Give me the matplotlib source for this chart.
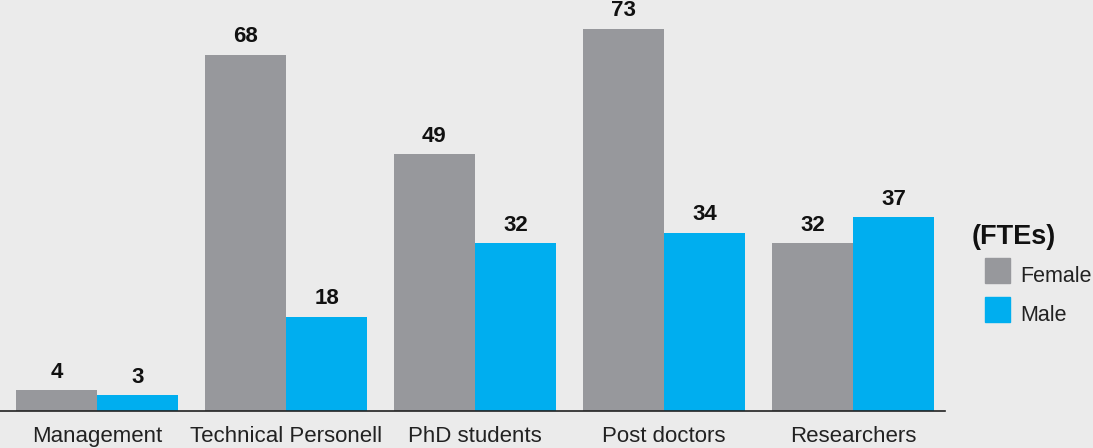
import numpy as np
import matplotlib.pyplot as plt
from matplotlib.patches import Rectangle

categories = ["Management", "Technical Personell", "PhD students", "Post doctors", "Researchers"]
female = [4, 68, 49, 73, 32]
male = [3, 18, 32, 34, 37]

bg = "#ebebeb"
gray = "#97989c"
blue = "#00aeef"

plt.rcParams["font.family"] = ["Liberation Sans", "DejaVu Sans"]

fig = plt.figure(figsize=(10.93, 4.48), dpi=100, facecolor=bg)
ax = fig.add_axes([0, 37 / 448, 945 / 1093, 411 / 448], facecolor=bg)

x = np.arange(len(categories))
w = 81 / 189
bf = ax.bar(x - w / 2, female, w, color=gray)
bm = ax.bar(x + w / 2, male, w, color=blue)

for bars in (bf, bm):
    for b in bars:
        ax.annotate(f"{b.get_height():.0f}", (b.get_x() + b.get_width() / 2, b.get_height()),
                    xytext=(0, 9), textcoords="offset points", ha="center", va="baseline",
                    fontsize=16, fontweight="bold", color="#111111")

ax.set_xlim(-97 / 189, 848 / 189)
ax.set_ylim(0, 78.5)
ax.set_xticks(x)
ax.set_xticklabels(categories, fontsize=16, color="#222222")
ax.tick_params(axis="x", length=0, pad=11)
ax.set_yticks([])
for s in ("top", "right", "left"):
    ax.spines[s].set_visible(False)
ax.spines["bottom"].set_linewidth(1.2)
ax.spines["bottom"].set_color("#222222")

# legend
W, H = 1093, 448
fig.text(972 / W, 1 - 244 / H, "(FTEs)", fontsize=19.5, fontweight="bold", color="#111111")
fig.add_artist(Rectangle((985 / W, 1 - 283 / H), 25 / W, 25 / H, transform=fig.transFigure,
                         color=gray))
fig.add_artist(Rectangle((985 / W, 1 - 322 / H), 25 / W, 25 / H, transform=fig.transFigure,
                         color=blue))
fig.text(1020 / W, 1 - 282 / H, "Female", fontsize=15.5, color="#222222")
fig.text(1020 / W, 1 - 321 / H, "Male", fontsize=15.5, color="#222222")

fig.savefig("out.png", dpi=100, facecolor=bg)
